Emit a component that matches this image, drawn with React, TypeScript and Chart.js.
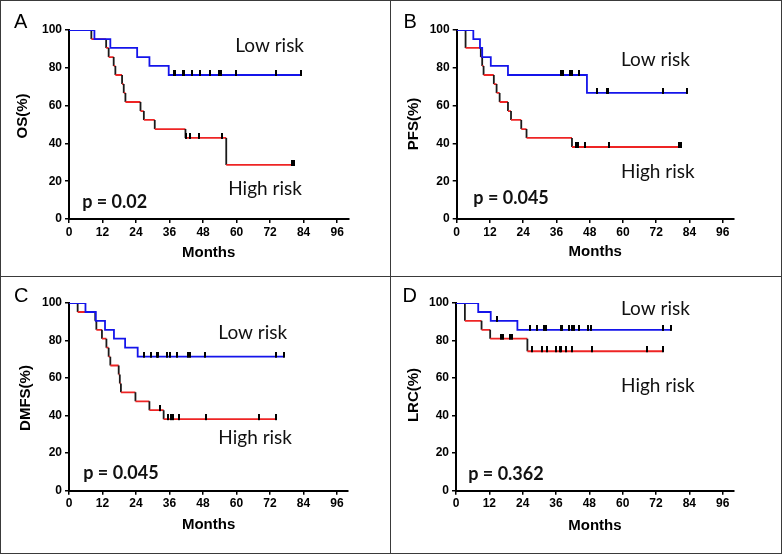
import React, { useEffect, useRef } from 'react';
import { Chart, registerables } from 'chart.js';

Chart.register(...registerables);

// ---------- axis ticks ----------
const X_TICKS = [0, 12, 24, 36, 48, 60, 72, 84, 96];
const Y_TICKS = [0, 20, 40, 60, 80, 100];

// ---------- Panel A: OS ----------
const osLowTimes = [9.1, 14.8, 24.4, 28.8, 35.7];
const osLowSurv = [95.2, 90.5, 85.7, 81.0, 76.2];
const osLowEnd = 83.2;
const osLowCensor = [37.5, 38.1, 40.8, 41.3, 44.2, 47.0, 50.4, 53.8, 54.3, 59.9, 74.2, 83.2];
const osHighTimes = [8.0, 13.3, 14.2, 16.0, 16.6, 19.0, 19.6, 20.2, 25.6, 26.8, 30.7, 41.7, 56.3];
const osHighSurv = [95.2, 90.5, 85.7, 81.0, 76.2, 71.4, 66.7, 61.9, 57.1, 52.4, 47.6, 42.9, 28.6];
const osHighEnd = 80.6;
const osHighCensor = [42.0, 43.5, 46.4, 54.8, 79.8, 80.6];

// ---------- Panel B: PFS ----------
const pfsLowTimes = [6.0, 8.4, 9.2, 12.3, 18.5, 47.0];
const pfsLowSurv = [95.2, 90.5, 85.7, 81.0, 76.2, 66.7];
const pfsLowEnd = 83.0;
const pfsLowCensor = [37.7, 38.3, 41.0, 41.5, 44.0, 50.5, 54.2, 54.7, 74.3, 83.0];
const pfsHighTimes = [3.2, 8.7, 9.2, 9.7, 13.4, 14.4, 15.5, 18.5, 19.6, 23.3, 25.2, 41.6];
const pfsHighSurv = [90.5, 85.7, 81.0, 76.2, 71.4, 66.7, 61.9, 57.1, 52.4, 47.6, 42.9, 38.1];
const pfsHighEnd = 81.0;
const pfsHighCensor = [43.2, 43.7, 46.4, 55.1, 80.2, 81.0];

// ---------- Panel C: DMFS ----------
const dmfsLowTimes = [5.9, 9.6, 12.9, 16.1, 20.1, 24.6];
const dmfsLowSurv = [95.2, 90.5, 85.7, 81.0, 76.2, 71.4];
const dmfsLowEnd = 76.9;
const dmfsLowCensor = [26.7, 29.3, 31.5, 32.0, 35.0, 36.1, 38.6, 42.6, 43.2, 48.8, 74.2, 76.9];
const dmfsHighTimes = [3.1, 9.4, 9.8, 11.8, 13.4, 14.2, 14.8, 17.8, 18.2, 18.6, 23.8, 28.8, 33.9];
const dmfsHighSurv = [95.2, 90.5, 85.7, 81.0, 76.2, 71.4, 66.7, 61.9, 57.1, 52.4, 47.6, 42.9, 38.1];
const dmfsHighEnd = 74.2;
const dmfsHighCensor = [32.5, 35.3, 36.6, 37.1, 39.3, 49.0, 68.2, 74.2];

// ---------- Panel D: LRC ----------
const lrcLowTimes = [8.0, 12.5, 22.1];
const lrcLowSurv = [95.2, 90.5, 85.7];
const lrcLowEnd = 77.4;
const lrcLowCensor = [14.7, 26.7, 29.3, 31.8, 32.3, 37.8, 38.3, 40.8, 41.6, 42.5, 44.1, 47.4, 48.6, 74.4, 77.4];
const lrcHighTimes = [3.2, 9.2, 12.3, 25.7];
const lrcHighSurv = [90.5, 85.7, 81.0, 74.3];
const lrcHighEnd = 74.4;
const lrcHighCensor = [16.3, 16.8, 19.5, 20.3, 27.3, 30.9, 32.7, 36.0, 37.3, 37.8, 39.6, 41.7, 49.0, 68.8, 74.4];

// ---------- styling ----------
const BLUE = '#1414ea';
const RED = '#ee2424';
const AX_FONT = '"Liberation Sans", Arial, sans-serif';
const ANN_FONT = 'Lato, "Open Sans", sans-serif';
const W = 391;
const H = 277;

type Group = { times: number[]; surv: number[]; end: number; censor: number[] };

const PANELS = [
  {
    letter: 'A', title: 'OS(%)', left: 0, top: 0,
    low: { times: osLowTimes, surv: osLowSurv, end: osLowEnd, censor: osLowCensor },
    high: { times: osHighTimes, surv: osHighSurv, end: osHighEnd, censor: osHighCensor },
    p: 'p = 0.02',
    geo: { axisW: 69, padTop: 30, padRight: 42.7, axisH: 58, yTitleX: 22.5, yTitleY: 116, xTitlePad: 15, letterX: 14, letterY: 28 },
    ann: { low: [59.5, 88.5], high: [57.0, 12.7], p: [4.7, 5.7] },
  },
  {
    letter: 'B', title: 'PFS(%)', left: 391, top: 0,
    low: { times: pfsLowTimes, surv: pfsLowSurv, end: pfsLowEnd, censor: pfsLowCensor },
    high: { times: pfsHighTimes, surv: pfsHighSurv, end: pfsHighEnd, censor: pfsHighCensor },
    p: 'p = 0.045',
    geo: { axisW: 65.7, padTop: 30, padRight: 48.2, axisH: 58, yTitleX: 23, yTitleY: 124, xTitlePad: 16, letterX: 12.5, letterY: 28 },
    ann: { low: [59.3, 81.0], high: [59.3, 21.5], p: [6.0, 7.9] },
  },
  {
    letter: 'C', title: 'DMFS(%)', left: 0, top: 277,
    low: { times: dmfsLowTimes, surv: dmfsLowSurv, end: dmfsLowEnd, censor: dmfsLowCensor },
    high: { times: dmfsHighTimes, surv: dmfsHighSurv, end: dmfsHighEnd, censor: dmfsHighCensor },
    p: 'p = 0.045',
    geo: { axisW: 69, padTop: 26, padRight: 42.8, axisH: 63.3, yTitleX: 25.5, yTitleY: 121, xTitlePad: 19.7, letterX: 14, letterY: 25 },
    ann: { low: [53.5, 81.0], high: [53.5, 25.0], p: [5.1, 6.4] },
  },
  {
    letter: 'D', title: 'LRC(%)', left: 391, top: 277,
    low: { times: lrcLowTimes, surv: lrcLowSurv, end: lrcLowEnd, censor: lrcLowCensor },
    high: { times: lrcHighTimes, surv: lrcHighSurv, end: lrcHighEnd, censor: lrcHighCensor },
    p: 'p = 0.362',
    geo: { axisW: 65, padTop: 26, padRight: 48.2, axisH: 63.3, yTitleX: 23, yTitleY: 118, xTitlePad: 19.2, letterX: 11.5, letterY: 25 },
    ann: { low: [59.4, 93.4], high: [59.4, 52.6], p: [4.4, 5.5] },
  },
];

function stepPoints(g: Group) {
  const pts = [{ x: 0, y: 100 }];
  let prev = 100;
  g.times.forEach((t, i) => {
    pts.push({ x: t, y: prev });
    pts.push({ x: t, y: g.surv[i] });
    prev = g.surv[i];
  });
  pts.push({ x: g.end, y: prev });
  return pts;
}

function levelAt(g: Group, t: number) {
  let v = 100;
  g.times.forEach((tt, i) => {
    if (tt <= t) v = g.surv[i];
  });
  return v;
}

function censorPoints(g: Group) {
  return g.censor.map((t) => ({ x: t, y: levelAt(g, t) }));
}

function KMPanel({ spec }: { spec: any }) {
  const ref = useRef<HTMLCanvasElement>(null);
  useEffect(() => {
    if (!ref.current) return;
    const tick = document.createElement('canvas');
    tick.width = 2;
    tick.height = 10;
    const tctx = tick.getContext('2d')!;
    tctx.fillStyle = '#000';
    tctx.fillRect(0, 0, 2, 6);

    const g = spec.geo;
    const annPlugin = {
      id: 'annText' + spec.letter,
      afterDraw(chart: any) {
        const { ctx } = chart;
        const xs = chart.scales.x;
        const ys = chart.scales.y;
        ctx.save();
        ctx.fillStyle = '#111';
        ctx.textBaseline = 'alphabetic';
        ctx.textAlign = 'left';
        ctx.font = `19px ${ANN_FONT}`;
        ctx.fillText('Low risk', xs.getPixelForValue(spec.ann.low[0]), ys.getPixelForValue(spec.ann.low[1]));
        ctx.fillText('High risk', xs.getPixelForValue(spec.ann.high[0]), ys.getPixelForValue(spec.ann.high[1]));
        ctx.font = `bold 18px ${ANN_FONT}`;
        ctx.fillText(spec.p, xs.getPixelForValue(spec.ann.p[0]), ys.getPixelForValue(spec.ann.p[1]));
        ctx.font = `20px ${AX_FONT}`;
        ctx.fillStyle = '#000';
        ctx.fillText(spec.letter, g.letterX, g.letterY);
        // y-axis title
        ctx.translate(g.yTitleX, g.yTitleY);
        ctx.rotate(-Math.PI / 2);
        ctx.textAlign = 'center';
        ctx.textBaseline = 'middle';
        ctx.font = `bold 15px ${AX_FONT}`;
        ctx.fillText(spec.title, 0, 0);
        ctx.restore();
      },
    };

    const chart = new Chart(ref.current, {
      type: 'line',
      data: {
        datasets: [
          {
            type: 'scatter',
            data: censorPoints(spec.low),
            pointStyle: tick as any,
            pointRadius: 3,
            showLine: false,
          } as any,
          {
            type: 'scatter',
            data: censorPoints(spec.high),
            pointStyle: tick as any,
            pointRadius: 3,
            showLine: false,
          } as any,
          {
            type: 'line',
            data: stepPoints(spec.low),
            borderColor: BLUE,
            borderWidth: 1.8,
            pointRadius: 0,
            tension: 0,
            fill: false,
          },
          {
            type: 'line',
            data: stepPoints(spec.high),
            borderColor: RED,
            borderWidth: 1.8,
            pointRadius: 0,
            tension: 0,
            fill: false,
            segment: {
              borderColor: (c: any) => (c.p0.parsed.x === c.p1.parsed.x ? '#1a1a1a' : RED),
            },
          },
        ],
      },
      options: {
        animation: false,
        responsive: false,
        maintainAspectRatio: false,
        devicePixelRatio: 1,
        layout: { padding: { top: g.padTop, right: g.padRight, left: 0, bottom: 0 } },
        plugins: { legend: { display: false }, tooltip: { enabled: false } },
        scales: {
          x: {
            type: 'linear',
            min: 0,
            max: 100,
            afterBuildTicks: (s: any) => {
              s.ticks = X_TICKS.map((v) => ({ value: v }));
            },
            afterFit: (s: any) => {
              s.height = g.axisH;
            },
            grid: { drawOnChartArea: false, drawTicks: true, tickLength: 4, color: '#000', lineWidth: 1.5 },
            border: { display: true, color: '#000', width: 2 },
            ticks: {
              color: '#000',
              padding: 2,
              maxRotation: 0,
              autoSkip: false,
              font: { family: AX_FONT, size: 12, weight: 'bold' },
            },
            title: {
              display: true,
              text: 'Months',
              color: '#000',
              font: { family: AX_FONT, size: 15, weight: 'bold' },
              padding: { top: 0, bottom: g.xTitlePad },
            },
          },
          y: {
            type: 'linear',
            min: 0,
            max: 100,
            afterBuildTicks: (s: any) => {
              s.ticks = Y_TICKS.map((v) => ({ value: v }));
            },
            afterFit: (s: any) => {
              s.width = g.axisW;
            },
            grid: { drawOnChartArea: false, drawTicks: true, tickLength: 4, color: '#000', lineWidth: 1.5 },
            border: { display: true, color: '#000', width: 2 },
            ticks: {
              color: '#000',
              padding: 3,
              font: { family: AX_FONT, size: 12, weight: 'bold' },
            },
            title: { display: false },
          },
        },
      } as any,
      plugins: [annPlugin],
    });
    return () => chart.destroy();
  }, []);
  return (
    <canvas
      ref={ref}
      width={W}
      height={H}
      style={{ position: 'absolute', left: spec.left, top: spec.top, width: W, height: H }}
    />
  );
}

export default function App() {
  return (
    <div style={{ position: 'absolute', left: 0, top: 0, width: 782, height: 554, background: '#fff' }}>
      {PANELS.map((p) => (
        <KMPanel key={p.letter} spec={p} />
      ))}
      <div style={{ position: 'absolute', left: 0, top: 0, width: 782, height: 554, boxSizing: 'border-box', border: '1px solid #3a3a3a', pointerEvents: 'none' }} />
      <div style={{ position: 'absolute', left: 390, top: 0, width: 1, height: 554, background: '#3a3a3a' }} />
      <div style={{ position: 'absolute', left: 0, top: 276, width: 782, height: 1, background: '#3a3a3a' }} />
    </div>
  );
}
